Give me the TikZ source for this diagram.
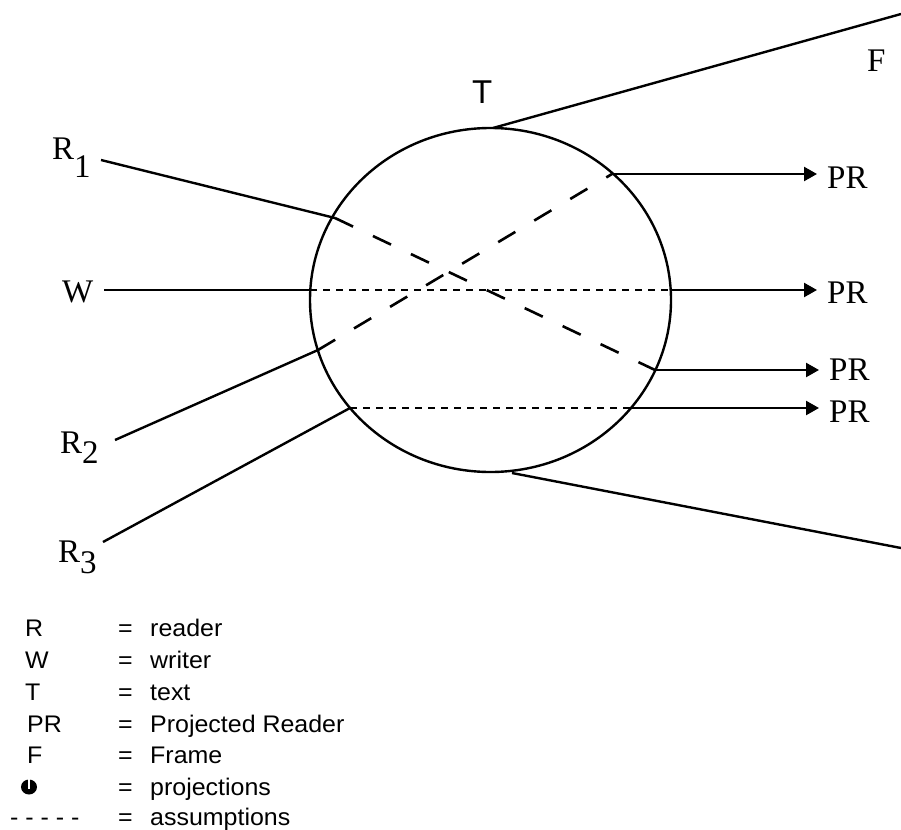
\documentclass[tikz,border=0pt]{standalone}
\usepackage{fontspec}
\setmainfont{Liberation Serif}
\newfontfamily\lsans{Liberation Sans}
\newfontfamily\legfont[FakeStretch=1.04]{Liberation Sans}
\usetikzlibrary{arrows.meta,shapes.geometric}
\begin{document}
\begin{tikzpicture}[x=1pt,y=-1pt,
  lbl/.style={inner sep=0pt, anchor=base west, font=\fontsize{33}{36}\selectfont},
  prlbl/.style={inner xsep=10pt, inner ysep=0pt, anchor=base west, font=\fontsize{33}{36}\selectfont},
  leg/.style={inner sep=0pt, anchor=base west, font=\legfont\fontsize{24}{28}\selectfont},
  solidline/.style={line width=2.4pt},
  projline/.style={line width=2.6pt, dash pattern=on 20pt off 22pt},
  assume/.style={line width=1.8pt, dash pattern=on 7pt off 6pt},
  prarrow/.style={line width=2.4pt, -{Triangle[length=13pt,width=14pt]}},
]
\useasboundingbox (0,0) rectangle (901,829);

% the text (circle)
\node[draw, ellipse, solidline, inner sep=0pt, minimum width=361pt, minimum height=344pt] (text) at (490.5,300) {};

% labels
\node[lbl] (r1) at (52,160) {R\raisebox{-18pt}{1}};
\node[lbl] (r2) at (60,453) {R\raisebox{-10pt}{2}};
\node[lbl] (r3) at (58,562) {R\raisebox{-11pt}{3}};
\node[lbl] (w) at (62,302) {W};
\node[lbl, font=\lsans\fontsize{33}{36}\selectfont] (t) at (472,104) {T};
\node[lbl] (f) at (867,72) {F};
\node[prlbl] (p1) at (817,188) {PR};
\node[prlbl] (p2) at (817,303) {PR};
\node[prlbl] (p3) at (819,380) {PR};
\node[prlbl] (p4) at (819,422) {PR};

% coordinates
\coordinate (r1s) at (101,160);
\coordinate (c1) at (335,218);
\coordinate (e1) at (655,370);
\coordinate (r2s) at (115,440);
\coordinate (c2) at (318,350);
\coordinate (e2) at (612,174);
\coordinate (r3s) at (103,542);
\coordinate (c3) at (350,408);
\coordinate (e3) at (630,408);
\coordinate (ws) at (104,290);
\coordinate (cw) at (310,290);
\coordinate (ew) at (671,290);
\coordinate (ft) at (493,128);
\coordinate (ftend) at (901,14);
\coordinate (fb) at (512,473);
\coordinate (fbend) at (901,548);

% frame
\draw[solidline] (ft) -- (ftend);
\draw[solidline] (fb) -- (fbend);

% R1
\draw[solidline] (r1s) -- (c1);
\draw[projline] (c1) -- (e1);
\draw[prarrow] (e1) -- (e1 -| p3.west);

% R2
\draw[solidline] (r2s) -- (c2);
\draw[projline] (c2) -- (e2);
\draw[prarrow] (e2) -- (e2 -| p1.west);

% W
\draw[solidline] (ws) -- (cw);
\draw[assume] (cw) -- (ew);
\draw[prarrow] (ew) -- (ew -| p2.west);

% R3
\draw[solidline] (r3s) -- (c3);
\draw[assume] (c3) -- (e3);
\draw[prarrow] (e3) -- (e3 -| p4.west);

% legend
\node[leg] (lr) at (25,636) {R};
\node[leg] (lw) at (25,668) {W};
\node[leg] (lt) at (25,700) {T};
\node[leg] (lpr) at (27,732) {PR};
\node[leg] (lf) at (27,763) {F};
\node[leg] (ld) at (10,825) {- - - - -};
\fill (29,787) ellipse [x radius=8, y radius=7.5];
\fill[white] (28.1,778.5) rectangle (29.9,789);
\foreach \yy/\txt [count=\i] in {636/reader, 668/writer, 700/text, 732/Projected Reader, 763/Frame, 795/projections, 825/assumptions}{
  \node[leg] (eq\i) at (118,\yy) {=};
  \node[leg] (def\i) at (150,\yy) {\txt};
}
\end{tikzpicture}
\end{document}
